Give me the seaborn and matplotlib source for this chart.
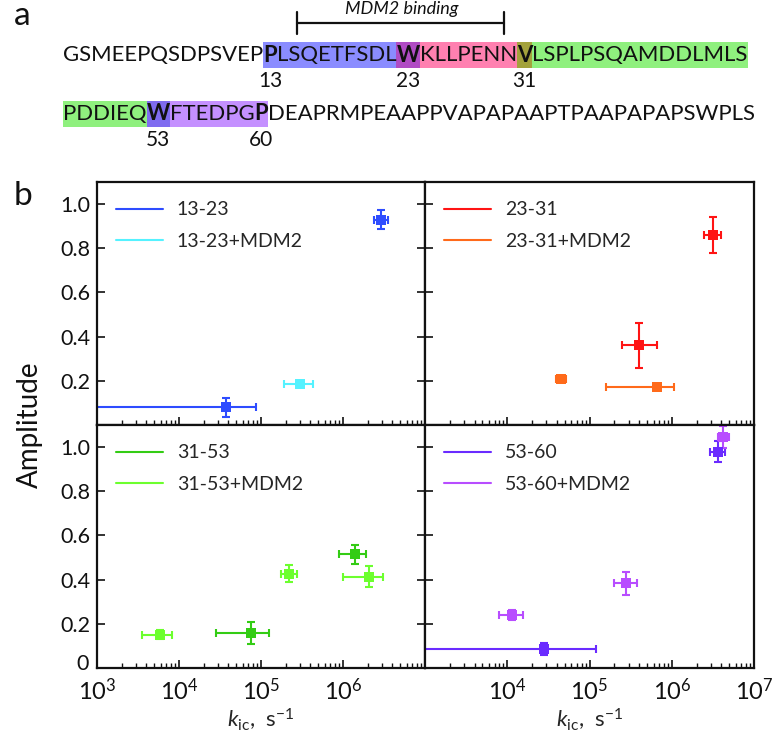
import matplotlib.pyplot as plt
import numpy as np
import pandas as pd
import seaborn as sns
from matplotlib.lines import Line2D
from matplotlib.patches import Rectangle
from matplotlib.ticker import FixedLocator, FixedFormatter, LogLocator, NullFormatter
from matplotlib.transforms import ScaledTranslation

# ---- panel a: sequence pieces (text, bold, highlight colour)
seq_line1 = [("GSMEEPQSDPSVEP", False, None),
             ("P", True, "#8a8cff"), ("LSQETFSDL", False, "#8a8cff"),
             ("W", True, "#b04cc4"),
             ("KLLPENN", False, "#ff80b0"),
             ("V", True, "#a3a23c"),
             ("LSPLPSQAMDDLMLS", False, "#8ff07e")]
seq_line2 = [("PDDIEQ", False, "#8ff07e"),
             ("W", True, "#7f6cf0"),
             ("FTEDPG", False, "#c490ff"),
             ("P", True, "#c490ff"),
             ("DEAPRMPEAAPPVAPAPAAPTPAAPAPAPSWPLS", False, None)]
line1_marks = {1: "13", 3: "23", 5: "31"}
line2_marks = {1: "53", 3: "60"}

# ---- panel b: amplitude vs k_ic (k, amplitude, k low, k high, amplitude error)
k_1323 = [3.7e4, 2.9e6]
amp_1323 = [0.08, 0.93]
lo_1323 = [5e2, 2.4e6]
hi_1323 = [8.8e4, 3.5e6]
err_1323 = [0.043, 0.045]

k_1323m = [3.0e5]
amp_1323m = [0.185]
lo_1323m = [1.9e5]
hi_1323m = [4.3e5]
err_1323m = [0.01]

k_2331 = [3.96e5, 3.2e6]
amp_2331 = [0.36, 0.86]
lo_2331 = [2.5e5, 2.5e6]
hi_2331 = [6.6e5, 4.0e6]
err_2331 = [0.1, 0.08]

k_2331m = [4.5e4, 6.6e5]
amp_2331m = [0.208, 0.17]
lo_2331m = [3.9e4, 1.57e5]
hi_2331m = [5.2e4, 1.06e6]
err_2331m = [0.008, 0.008]

k_3153 = [7.5e4, 1.4e6]
amp_3153 = [0.16, 0.514]
lo_3153 = [2.8e4, 9.0e5]
hi_3153 = [1.24e5, 1.9e6]
err_3153 = [0.05, 0.044]

k_3153m = [5.8e3, 2.2e5, 2.1e6]
amp_3153m = [0.15, 0.426, 0.414]
lo_3153m = [3.55e3, 1.74e5, 1.0e6]
hi_3153m = [8.2e3, 2.75e5, 3.1e6]
err_3153m = [0.02, 0.038, 0.046]

k_5360 = [2.8e4, 3.6e6]
amp_5360 = [0.085, 0.98]
lo_5360 = [5e2, 2.9e6]
hi_5360 = [1.2e5, 4.5e6]
err_5360 = [0.028, 0.047]

k_5360m = [1.13e4, 2.8e5, 4.2e6]
amp_5360m = [0.241, 0.383, 1.044]
lo_5360m = [7.9e3, 2.0e5, 3.6e6]
hi_5360m = [1.57e4, 3.8e5, 4.9e6]
err_5360m = [0.023, 0.052, 0.05]

panels = [
    [("13-23", "#2e4cff", k_1323, amp_1323, lo_1323, hi_1323, err_1323),
     ("13-23+MDM2", "#55f2ff", k_1323m, amp_1323m, lo_1323m, hi_1323m, err_1323m)],
    [("23-31", "#ff1414", k_2331, amp_2331, lo_2331, hi_2331, err_2331),
     ("23-31+MDM2", "#ff6a1a", k_2331m, amp_2331m, lo_2331m, hi_2331m, err_2331m)],
    [("31-53", "#33cc14", k_3153, amp_3153, lo_3153, hi_3153, err_3153),
     ("31-53+MDM2", "#6cff2e", k_3153m, amp_3153m, lo_3153m, hi_3153m, err_3153m)],
    [("53-60", "#6a2bff", k_5360, amp_5360, lo_5360, hi_5360, err_5360),
     ("53-60+MDM2", "#b84dff", k_5360m, amp_5360m, lo_5360m, hi_5360m, err_5360m)],
]

sns.set_theme(style="ticks")
plt.rcParams['font.family'] = ['Lato', 'DejaVu Sans']
plt.rcParams.update({'mathtext.fontset': 'custom', 'mathtext.rm': 'Lato',
                     'mathtext.it': 'Lato:italic', 'mathtext.bf': 'Lato:bold',
                     'axes.edgecolor': '#111111', 'axes.linewidth': 1.6})

W, H = 776, 741
fig = plt.figure(figsize=(W / 100, H / 100), dpi=100)


def fx(x):
    return x / W


def fy(y):
    return 1 - y / H


# axes boxes in pixels: (left, top, right, bottom)
boxes = [(97, 182, 425, 425), (425, 182, 754, 425),
         (97, 425, 425, 668), (425, 425, 754, 668)]

axes = []
for i, (box, series) in enumerate(zip(boxes, panels)):
    l, t, r, b = box
    ax = fig.add_axes([fx(l), fy(b), (r - l) / W, (b - t) / H])
    ax.set_xscale('log')
    handles = []
    for name, col, k, amp, lo, hi, err in series:
        k = np.array(k)
        df = pd.DataFrame({'k': k, 'amp': amp})
        ax.errorbar(k, amp, xerr=[k - np.array(lo), np.array(hi) - k], yerr=err,
                    fmt='none', ecolor=col, elinewidth=1.5, capsize=2.8, capthick=1.5,
                    zorder=2)
        sns.scatterplot(data=df, x='k', y='amp', marker='s', s=48, color=col,
                        edgecolor=col, linewidth=0, ax=ax, zorder=3, legend=False)
        handles.append(Line2D([], [], color=col, lw=1.5))
    ax.legend(handles, [s[0] for s in series], loc='upper left', frameon=False,
              fontsize=14, handlelength=2.4, handletextpad=0.7, labelspacing=0.75,
              borderaxespad=0.6)
    ax.set_xlim(1e3, 1e7)
    ax.set_ylim(0, 1.1)
    ax.set_xlabel('')
    ax.set_ylabel('')
    ax.xaxis.set_major_locator(FixedLocator([1e3, 1e4, 1e5, 1e6, 1e7]))
    ax.xaxis.set_minor_locator(LogLocator(base=10, subs=np.arange(2, 10), numticks=20))
    ax.xaxis.set_minor_formatter(NullFormatter())
    if i >= 2:
        ax.yaxis.set_major_locator(FixedLocator([0, 0.2, 0.4, 0.6, 0.8, 1.0]))
        ylabels = ['0', '0.2', '0.4', '0.6', '0.8', '1.0']
    else:
        ax.yaxis.set_major_locator(FixedLocator([0.2, 0.4, 0.6, 0.8, 1.0]))
        ylabels = ['0.2', '0.4', '0.6', '0.8', '1.0']
    if i % 2 == 0:
        ax.yaxis.set_major_formatter(FixedFormatter(ylabels))
        ax.tick_params(axis='y', left=True, right=True)
    else:
        ax.yaxis.set_major_formatter(NullFormatter())
        ax.tick_params(axis='y', left=True, right=False)
    if i == 2:
        xl = [r'$10^{3}$', r'$10^{4}$', r'$10^{5}$', r'$10^{6}$', '']
        ax.xaxis.set_major_formatter(FixedFormatter(xl))
    elif i == 3:
        xl = ['', r'$10^{4}$', r'$10^{5}$', r'$10^{6}$', r'$10^{7}$']
        ax.xaxis.set_major_formatter(FixedFormatter(xl))
    else:
        ax.xaxis.set_major_formatter(NullFormatter())
    ax.tick_params(which='both', direction='in', top=False, bottom=True,
                   colors='#111111', labelsize=15.5, width=1.2, pad=5)
    ax.tick_params(which='major', length=5.5)
    ax.tick_params(which='minor', length=3.5, width=1.0)
    ax.tick_params(axis='x', which='major', labelsize=17, pad=7)
    if i >= 2:
        ax.set_xlabel(r'$\mathit{k}_{\mathrm{ic}}$,  s$^{\mathrm{-1}}$', fontsize=16,
                      labelpad=2)
    axes.append(ax)

# lift the "0" label a little so it sits clear of the 10^3 label
zero_lbl = axes[2].get_yticklabels()[0]
zero_lbl.set_transform(zero_lbl.get_transform()
                       + ScaledTranslation(-1 / 72, 4 / 72, fig.dpi_scale_trans))

fig.text(fx(30), fy(425), 'Amplitude', rotation=90, fontsize=20, ha='center',
         va='center', color='#111111')

# ---- panel a drawing
fig.text(fx(14), fy(16), 'a', fontsize=24, ha='left', va='center', color='#111111')
fig.text(fx(14), fy(196), 'b', fontsize=24, ha='left', va='center', color='#111111')

renderer = fig.canvas.get_renderer()

# fit the first sequence line to the width it has in the reference (63 -> 748 px)
probe = fig.text(0, 0, ''.join(p[0] for p in seq_line1), fontsize=17)
probe_w = probe.get_window_extent(renderer).width
probe.remove()
seq_size = 17 * 685 / probe_w


def draw_seq(pieces, x0, y, size, marks, mark_y):
    x = x0
    for j, (txt, bold, col) in enumerate(pieces):
        t = fig.text(fx(x), fy(y), txt, fontsize=size,
                     fontweight='bold' if bold else 'normal', ha='left',
                     va='center', color='#111111', zorder=3)
        bb = t.get_window_extent(renderer)
        if col is not None:
            fig.patches.append(Rectangle((fx(bb.x0), fy(y + 13)), (bb.x1 - bb.x0) / W,
                                         26 / H, transform=fig.transFigure,
                                         facecolor=col, edgecolor='none', zorder=1))
        if j in marks:
            cx = (bb.x0 + bb.x1) / 2
            fig.text(fx(cx), fy(mark_y), marks[j], fontsize=15, ha='center',
                     va='center', color='#111111')
        x += bb.x1 - bb.x0


draw_seq(seq_line1, 63, 55, seq_size, line1_marks, 81)
draw_seq(seq_line2, 63, 114, seq_size, line2_marks, 140)

# MDM2 binding bracket
fig.lines.append(Line2D([fx(297), fx(504)], [fy(23), fy(23)], transform=fig.transFigure,
                        color='#111111', lw=1.6))
for xb in (297, 504):
    fig.lines.append(Line2D([fx(xb), fx(xb)], [fy(12), fy(34)], transform=fig.transFigure,
                            color='#111111', lw=1.6))
fig.text(fx(402), fy(9), 'MDM2 binding', fontsize=13, style='italic', ha='center',
         va='center', color='#111111')

fig.savefig('out.png', dpi=100)
